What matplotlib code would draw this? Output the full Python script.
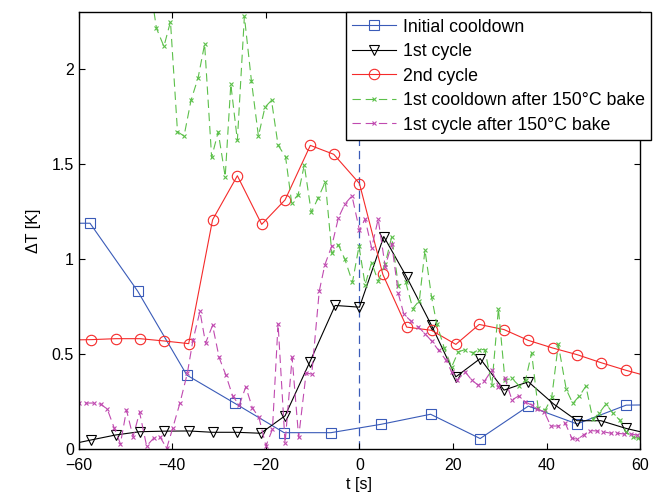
import matplotlib
matplotlib.use("Agg")
import matplotlib.pyplot as plt

plt.rcParams['font.family'] = ['Liberation Sans', 'DejaVu Sans']
plt.rcParams['lines.scale_dashes'] = False

# ---- data ----
init_t = [-68, -57.6, -47.4, -36.9, -26.6, -16.1, -6.1, 4.6, 15.2, 25.8, 36.1, 46.5, 57.0, 67]
init_dT = [1.19, 1.19, 0.832, 0.39, 0.241, 0.087, 0.087, 0.131, 0.184, 0.056, 0.227, 0.133, 0.232, 0.235]

cyc1_t = [-62.5, -57.3, -52.1, -47.0, -41.8, -36.5, -31.4, -26.2, -21.1, -15.9, -10.6, -5.2, 0.0,
          5.2, 10.1, 15.4, 20.6, 25.8, 30.9, 36.1, 41.5, 46.5, 51.6, 56.9, 62.1]
cyc1_dT = [0.022, 0.049, 0.075, 0.092, 0.095, 0.096, 0.089, 0.089, 0.084, 0.176, 0.46, 0.757, 0.748,
           1.12, 0.906, 0.652, 0.381, 0.477, 0.311, 0.355, 0.238, 0.15, 0.15, 0.11, 0.08]

cyc2_t = [-62.5, -57.3, -52.1, -46.9, -41.8, -36.5, -31.4, -26.1, -20.9, -15.9, -10.5, -5.5, 0.0,
          5.0, 10.1, 15.4, 20.6, 25.6, 30.9, 36.1, 41.3, 46.5, 51.6, 56.9, 62.1]
cyc2_dT = [0.575, 0.577, 0.582, 0.582, 0.57, 0.556, 1.208, 1.44, 1.184, 1.313, 1.6, 1.553, 1.399,
           0.92, 0.643, 0.626, 0.552, 0.657, 0.63, 0.573, 0.533, 0.498, 0.456, 0.416, 0.381]

bake_cool_t = [-44.8, -43.4, -41.8, -40.4, -38.9, -37.5, -36.0, -34.5, -33.1, -31.6, -30.2, -28.7,
               -27.5, -26.1, -24.6, -23.1, -21.6, -20.2, -18.8, -17.4, -15.8, -14.5, -13.1, -11.8,
               -10.3, -8.8, -7.3, -5.9, -4.5, -3.1, -1.5, -0.1, 1.2, 2.6, 4.0, 5.5, 6.9, 8.3, 9.9,
               11.4, 12.8, 14.0, 15.4, 16.5, 18.1, 19.7, 21.1, 22.6, 24.2, 25.6, 26.8, 28.3, 29.7,
               31.1, 32.6, 34.2, 35.5, 36.8, 38.2, 39.7, 41.1, 42.5, 44.2, 45.6, 47.0, 48.4, 49.9,
               51.3, 52.7, 54.2, 55.6, 57.0, 58.4, 59.6, 61.1]
bake_cool_dT = [2.45, 2.217, 2.121, 2.252, 1.672, 1.649, 1.838, 1.955, 2.133, 1.537, 1.671, 1.435,
                1.922, 1.626, 2.279, 1.941, 1.649, 1.801, 1.837, 1.601, 1.540, 1.299, 1.341, 1.497,
                1.247, 1.325, 1.408, 1.031, 1.076, 0.999, 0.879, 1.069, 0.867, 0.983, 0.885, 0.976,
                1.119, 0.862, 0.879, 0.740, 0.783, 1.049, 0.804, 0.661, 0.535, 0.433, 0.512, 0.525,
                0.507, 0.525, 0.524, 0.337, 0.740, 0.364, 0.373, 0.332, 0.364, 0.507, 0.215, 0.206,
                0.273, 0.552, 0.315, 0.241, 0.280, 0.332, 0.157, 0.192, 0.238, 0.189, 0.154, 0.092,
                0.063, 0.058, 0.054]

bake_cyc_t = [-61.4, -60.0, -58.4, -56.8, -55.3, -53.9, -52.4, -51.1, -49.8, -48.4, -47.0, -45.5,
              -44.0, -42.6, -41.2, -39.9, -38.4, -36.8, -35.6, -34.1, -32.9, -31.4, -30.0, -28.6,
              -27.1, -25.7, -24.3, -22.9, -21.5, -20.0, -18.6, -17.4, -15.9, -14.4, -13.0, -11.4,
              -10.2, -8.6, -7.4, -5.9, -4.5, -3.1, -1.6, 0.0, 1.2, 2.6, 4.0, 5.5, 6.9, 8.3, 9.5,
              11.0, 12.6, 14.0, 15.4, 16.9, 18.5, 19.7, 20.9, 22.6, 24.0, 25.4, 26.7, 28.3, 29.7,
              31.1, 32.6, 34.0, 35.4, 36.8, 38.0, 39.5, 40.9, 42.5, 44.0, 45.4, 46.6, 47.9, 49.3,
              50.7, 52.1, 53.7, 55.1, 56.6, 58.0, 59.3, 60.6]
bake_cyc_dT = [0.243, 0.243, 0.243, 0.243, 0.237, 0.211, 0.110, 0.029, 0.206, 0.066, 0.194, 0.017,
               0.058, 0.063, 0.005, 0.113, 0.241, 0.399, 0.573, 0.726, 0.559, 0.652, 0.483, 0.393,
               0.280, 0.232, 0.328, 0.218, 0.168, 0.017, 0.105, 0.661, 0.031, 0.483, 0.063, 0.402,
               0.395, 0.832, 0.971, 1.072, 1.219, 1.292, 1.334, 1.153, 1.212, 1.060, 1.212, 0.962,
               1.081, 0.820, 0.710, 0.675, 0.643, 0.609, 0.570, 0.521, 0.469, 0.407, 0.364, 0.407,
               0.364, 0.337, 0.358, 0.416, 0.328, 0.373, 0.259, 0.280, 0.250, 0.232, 0.210, 0.197,
               0.122, 0.122, 0.136, 0.058, 0.052, 0.075, 0.098, 0.096, 0.092, 0.084, 0.084, 0.080,
               0.080, 0.075, 0.070]

labels = ["Initial cooldown", "1st cycle", "2nd cycle",
          "1st cooldown after 150\u00b0C bake", "1st cycle after 150\u00b0C bake"]
x_ticks = [-60, -40, -20, 0, 20, 40, 60]
y_ticks = [0, 0.5, 1, 1.5, 2]
y_ticklabels = ["0", "0.5", "1", "1.5", "2"]

# ---- figure ----
fig = plt.figure(figsize=(6.62, 4.98), dpi=100)
ax = fig.add_axes([0.119, 0.098, 0.848, 0.877])

blue = '#3a5bb8'
red = '#f52a2a'
green = '#5cc04a'
mag = '#c04ab0'

ax.axvline(0, color=blue, lw=0.9, dashes=(6, 3.5), zorder=1)

l1, = ax.plot(init_t, init_dT, color=blue, lw=0.8, marker='s', ms=6.5, mfc='none', mec=blue, mew=0.8)
l2, = ax.plot(cyc1_t, cyc1_dT, color='black', lw=0.8, marker='v', ms=7.5, mfc='none', mec='black', mew=0.8)
l3, = ax.plot(cyc2_t, cyc2_dT, color=red, lw=0.8, marker='o', ms=7.5, mfc='none', mec=red, mew=0.8)
l4, = ax.plot(bake_cool_t, bake_cool_dT, color=green, lw=0.8, dashes=(6, 3.5), marker='x', ms=3, mew=0.8)
l5, = ax.plot(bake_cyc_t, bake_cyc_dT, color=mag, lw=0.8, dashes=(6, 3.5), marker='x', ms=3, mew=0.8)

ax.set_xlim(-60, 60)
ax.set_ylim(0, 2.3)
ax.set_xticks(x_ticks)
ax.set_yticks(y_ticks)
ax.set_yticklabels(y_ticklabels)
ax.tick_params(direction='in', top=True, right=True, length=4.5, width=0.8, labelsize=11.5)
ax.tick_params(axis='x', pad=6)
for s in ax.spines.values():
    s.set_linewidth(1.0)

ax.set_xlabel("t [s]", fontsize=11.5, labelpad=3)
ax.set_ylabel("\u0394T [K]", fontsize=11.5, labelpad=8)

leg = ax.legend([l1, l2, l3, l4, l5], labels, loc='upper right',
                bbox_to_anchor=(0.983, 0.975), bbox_transform=fig.transFigure,
                fontsize=12.8, frameon=True, fancybox=False, framealpha=1,
                edgecolor='black', borderaxespad=0, borderpad=0.35,
                labelspacing=0.42, handlelength=2.5, handletextpad=0.35)
leg.get_frame().set_linewidth(1.0)
leg.set_zorder(10)

fig.savefig("out.png", dpi=100)
